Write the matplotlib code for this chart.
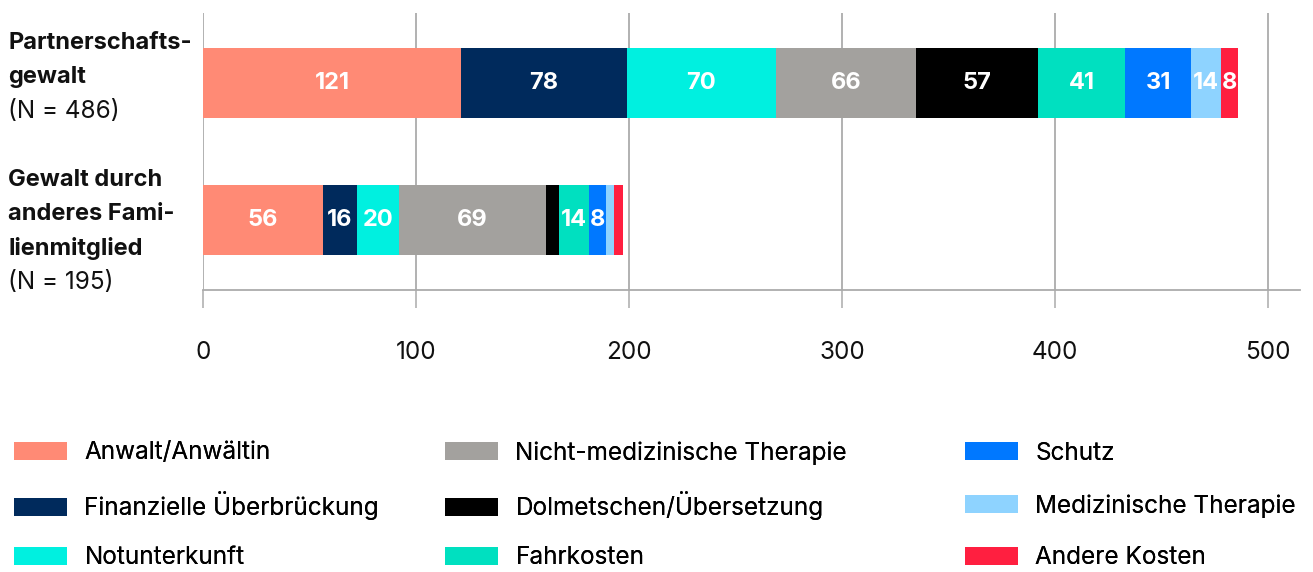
import matplotlib
matplotlib.use('Agg')
import matplotlib.pyplot as plt
import numpy as np

plt.rcParams['font.family'] = ['Inter', 'DejaVu Sans']

categories = ['Partnerschafts-\ngewalt', 'Gewalt durch\nanderes Fami-\nlienmitglied']
totals = ['(N = 486)', '(N = 195)']
series = ['Anwalt/Anwältin', 'Finanzielle Überbrückung', 'Notunterkunft',
          'Nicht-medizinische Therapie', 'Dolmetschen/Übersetzung', 'Fahrkosten',
          'Schutz', 'Medizinische Therapie', 'Andere Kosten']
partner = [121, 78, 70, 66, 57, 41, 31, 14, 8]
familie = [56, 16, 20, 69, 6, 14, 8, 4, 4]
colors = ['#FF8A75', '#002A5C', '#00F0E0', '#A3A19E', '#000000', '#00E0C0',
          '#0078FF', '#8ED3FF', '#FF1F40']
xticks = [0, 100, 200, 300, 400, 500]

values = np.array([partner, familie])
y = np.arange(len(categories))

W, H = 1313, 572
fs = 17.5      # regular text
fsb = 17       # bold text
fig = plt.figure(figsize=(W / 100, H / 100), dpi=100)
ax = fig.add_axes([203.3 / W, 1 - 290 / H, (1299.7 - 203.3) / W, 277 / H])

grey = '#ABABAB'
left = np.zeros(len(categories))
bars = []
for i, name in enumerate(series):
    b = ax.barh(y, values[:, i], height=0.51, left=left, color=colors[i],
                label=name, zorder=3)
    bars.append(b)
    for j, v in enumerate(values[:, i]):
        if v >= 7:
            ax.text(left[j] + v / 2, y[j], str(v), ha='center', va='center',
                    color='white', fontsize=fsb, fontweight='bold', zorder=4)
    left += values[:, i]

ax.set_xlim(0, 515)
ax.set_ylim(1.51, -0.51)
ax.set_xticks(xticks)
ax.set_yticks([])
ax.xaxis.grid(True, color=grey, linewidth=1.3, zorder=0)
for s in ['top', 'right', 'left']:
    ax.spines[s].set_visible(False)
ax.spines['bottom'].set_color(grey)
ax.spines['bottom'].set_linewidth(1.3)
ax.tick_params(axis='x', direction='out', length=13, width=1.1, color=grey,
               pad=24, labelsize=fs, labelcolor='#111111')

# category labels, left aligned at the figure edge
for j, cat in enumerate(categories):
    lines = cat.split('\n')
    for k, line in enumerate(lines):
        ax.annotate(line, xy=(8 / W, y[j]), xycoords=('figure fraction', 'data'),
                    xytext=(0, 24.5 - k * 24.8), textcoords='offset points',
                    ha='left', va='baseline', fontsize=fsb, fontweight='bold',
                    color='#111111', annotation_clip=False)
    ax.annotate(totals[j], xy=(8 / W, y[j]), xycoords=('figure fraction', 'data'),
                xytext=(0, 24.5 - len(lines) * 24.8), textcoords='offset points',
                ha='left', va='baseline', fontsize=fs, color='#111111',
                annotation_clip=False)

# legend: 3 columns x 3 rows, one entry per legend so rows line up exactly
col_x = [14, 445, 965]
row_y = [453, 506, 558]
for i, name in enumerate(series):
    c, r = divmod(i, 3)
    leg = fig.legend([bars[i]], [name], loc='center left',
                     bbox_to_anchor=(col_x[c] / W, 1 - row_y[r] / H), frameon=False,
                     fontsize=fs, handlelength=2.2, handleheight=0.75,
                     handletextpad=0.7, borderpad=0, borderaxespad=0)
    fig.add_artist(leg)

fig.savefig('out.png', dpi=100)
